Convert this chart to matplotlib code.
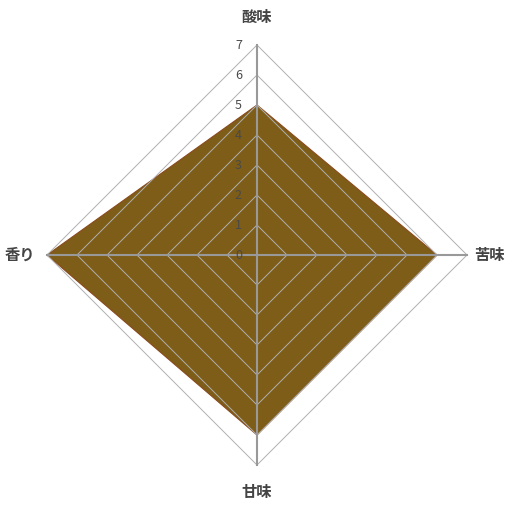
import matplotlib
matplotlib.use("Agg")
import matplotlib.pyplot as plt
import numpy as np

plt.rcParams["font.family"] = ["Noto Sans CJK JP", "DejaVu Sans"]

categories = ["酸味", "苦味", "甘味", "香り"]
values = [5, 6, 6, 7]
ticks = [0, 1, 2, 3, 4, 5, 6, 7]
r_max = 7

FILL = "#7d5d17"
EDGE = "#8a4a1c"
GRID = "#b0b0b0"
TEXT = "#444444"

# top, right, bottom, left (clockwise from 12 o'clock)
angles = np.pi / 2 - np.arange(len(categories)) * 2 * np.pi / len(categories)
ux, uy = np.cos(angles), np.sin(angles)

fig = plt.figure(figsize=(5.11, 5.11), dpi=100)
ax = fig.add_axes([0, 0, 1, 1])
ax.set_xlim(-257 / 30, 254 / 30)
ax.set_ylim(-256 / 30, 255 / 30)
ax.axis("off")

v = np.array(values, dtype=float)
ax.fill(np.append(v * ux, v[0] * ux[0]), np.append(v * uy, v[0] * uy[0]),
        facecolor=FILL, edgecolor=EDGE, linewidth=0.8, zorder=1)

for t in ticks[1:]:
    ax.plot(np.append(t * ux, t * ux[0]), np.append(t * uy, t * uy[0]),
            color=GRID, linewidth=0.7, zorder=2)

for x, y in zip(ux, uy):
    ax.plot([0, r_max * x], [0, r_max * y], color="#999999", linewidth=1.5, zorder=3)

for t in ticks:
    ax.text(-0.62, t, str(t), ha="center", va="center", fontsize=9,
            color="#4a4a4a", zorder=4)

offsets = [(0, 7.95), (7.75, 0), (0, -7.9), (-7.9, 0)]
for name, (x, y) in zip(categories, offsets):
    ax.text(x, y, name, ha="center", va="center", fontsize=11,
            fontweight="bold", color=TEXT, zorder=4)

fig.savefig("out.png", dpi=100, facecolor="white")
